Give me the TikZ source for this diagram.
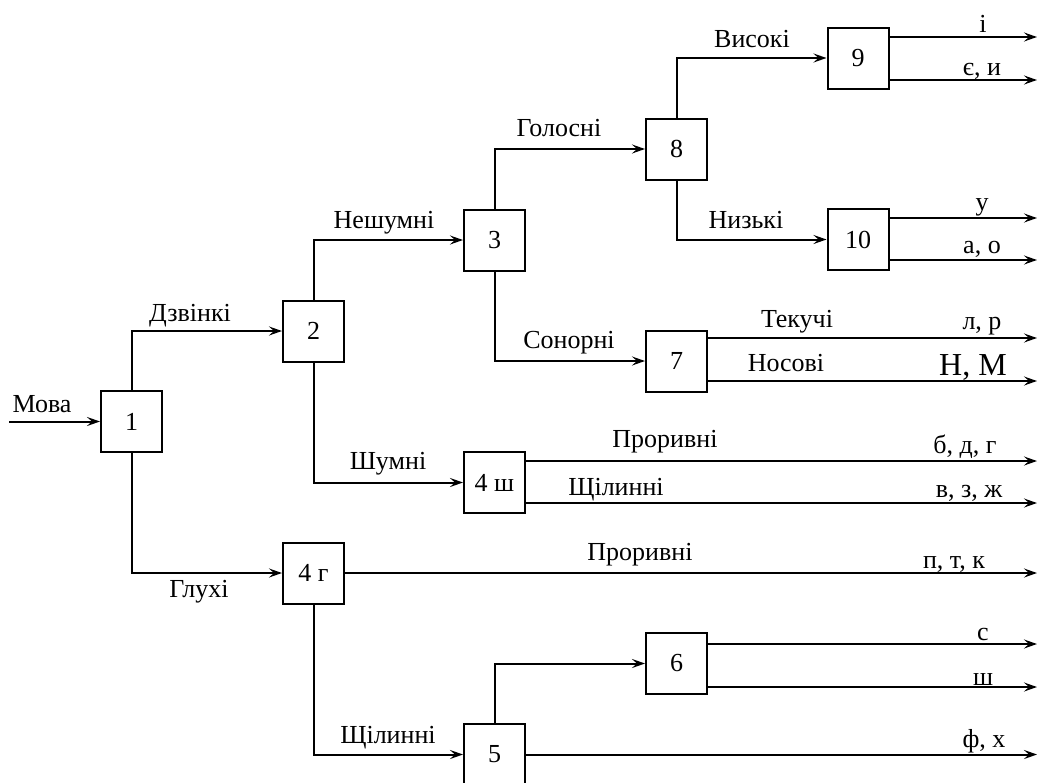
\documentclass[tikz,border=0pt]{standalone}
\usepackage{fontspec}
\setmainfont{Liberation Serif}
\usetikzlibrary{arrows.meta}
\begin{document}
\begin{tikzpicture}[x=1pt,y=-1pt,
  box/.style={draw,line width=2pt,minimum width=61pt,minimum height=61pt,inner sep=0pt,font=\fontsize{26}{30}\selectfont},
  arr/.style={line width=2pt,-{Stealth[length=13pt,width=9pt,inset=5pt]}},
  lbl/.style={anchor=base,inner sep=0pt,font=\fontsize{26}{30}\selectfont},
  big/.style={anchor=base,inner sep=0pt,font=\fontsize{32}{36}\selectfont}]
\useasboundingbox (0,0) rectangle (1039,782);
% boxes
\node[box] (n1) at (131.5,421.5) {1};
\node[box] (n2) at (313.5,331) {2};
\node[box] (n3) at (494.5,240) {3};
\node[box] (n4s) at (494.5,482.5) {4 ш};
\node[box] (n4g) at (313.5,573) {4 г};
\node[box] (n5) at (494.5,754.5) {5};
\node[box] (n6) at (676.5,663.5) {6};
\node[box] (n7) at (676.5,361) {7};
\node[box] (n8) at (676.5,149) {8};
\node[box] (n9) at (858,58) {9};
\node[box] (n10) at (858,239.5) {10};
% free ends
\coordinate (in) at (9,421.5);
\coordinate (o9a) at (1037,37);
\coordinate (o9b) at (1037,80);
\coordinate (o10a) at (1037,218);
\coordinate (o10b) at (1037,260);
\coordinate (o7a) at (1037,338);
\coordinate (o7b) at (1037,381);
\coordinate (o4sa) at (1037,461);
\coordinate (o4sb) at (1037,503);
\coordinate (o4g) at (1037,573);
\coordinate (o6a) at (1037,644);
\coordinate (o6b) at (1037,687);
\coordinate (o5) at (1037,754.5);
% connectors
\draw[arr] (in) -- (n1.west);
\draw[arr] (n1.north) |- (n2.west);
\draw[arr] (n1.south) |- (n4g.west);
\draw[arr] (n2.north) |- (n3.west);
\draw[arr] (n2.south) |- (n4s.west);
\draw[arr] (n3.north) |- (n8.west);
\draw[arr] (n3.south) |- (n7.west);
\draw[arr] (n8.north) |- (n9.west);
\draw[arr] (n8.south) |- (n10.west);
\draw[arr] (n4g.south) |- (n5.west);
\draw[arr] (n5.north) |- (n6.west);
\draw[arr] (n9.east |- o9a) -- (o9a);
\draw[arr] (n9.east |- o9b) -- (o9b);
\draw[arr] (n10.east |- o10a) -- (o10a);
\draw[arr] (n10.east |- o10b) -- (o10b);
\draw[arr] (n7.east |- o7a) -- (o7a);
\draw[arr] (n7.east |- o7b) -- (o7b);
\draw[arr] (n4s.east |- o4sa) -- (o4sa);
\draw[arr] (n4s.east |- o4sb) -- (o4sb);
\draw[arr] (n4g.east) -- (o4g);
\draw[arr] (n6.east |- o6a) -- (o6a);
\draw[arr] (n6.east |- o6b) -- (o6b);
\draw[arr] (n5.east) -- (o5);
% labels
\node[lbl] (tMova) at (42,412.5) {Мова};
\node[lbl] (tDzv) at (190,321.5) {Дзвінкі};
\node[lbl] (tGluh) at (199,597) {Глухі};
\node[lbl] (tNesh) at (384,228) {Нешумні};
\node[lbl] (tShum) at (388,469) {Шумні};
\node[lbl] (tGol) at (559,136.5) {Голосні};
\node[lbl] (tSon) at (569,348) {Сонорні};
\node[lbl] (tVys) at (752,47) {Високі};
\node[lbl] (tNyz) at (746,228) {Низькі};
\node[lbl] (tTek) at (797,327) {Текучі};
\node[lbl] (tNos) at (786,371) {Носові};
\node[lbl] (tPr1) at (665,447.5) {Проривні};
\node[lbl] (tSh1) at (616,495) {Щілинні};
\node[lbl] (tPr2) at (640,560) {Проривні};
\node[lbl] (tSh2) at (388,743) {Щілинні};
\node[lbl] (ri) at (983,32) {і};
\node[lbl] (rei) at (982,75) {є, и};
\node[lbl] (ru) at (982,210) {у};
\node[lbl] (rao) at (982,253) {а, о};
\node[lbl] (rlr) at (982,329) {л, р};
\node[big] (rnm) at (973,375) {Н, М};
\node[lbl] (rbdg) at (965,453) {б, д, г};
\node[lbl] (rvzzh) at (969,497) {в, з, ж};
\node[lbl] (rptk) at (954,568) {п, т, к};
\node[lbl] (rs) at (983,640) {с};
\node[lbl] (rsh) at (983,685) {ш};
\node[lbl] (rfh) at (984,747) {ф, х};
\end{tikzpicture}
\end{document}
